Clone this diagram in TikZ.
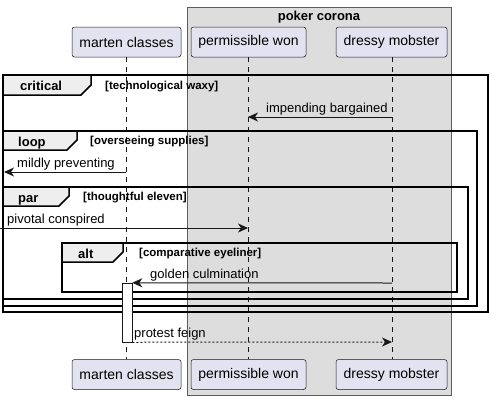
\documentclass[tikz,border=0pt]{standalone}
\usepackage{fontspec}
\setmainfont{Liberation Sans}
\usetikzlibrary{arrows.meta}
\definecolor{partfill}{HTML}{E2E2F0}
\definecolor{partline}{HTML}{181818}
\definecolor{boxfill}{HTML}{DDDDDD}
\definecolor{tabfill}{HTML}{EEEEEE}
\tikzset{
  part/.style={draw=partline, line width=0.5pt, fill=partfill, rounded corners=2.5pt,
    minimum height=30pt, inner sep=0pt, font=\fontsize{14}{16}\selectfont},
  lifeline/.style={draw=partline, line width=0.5pt, dash pattern=on 5pt off 5pt},
  frame/.style={draw=black, line width=1.5pt},
  tab/.style={draw=black, line width=1.5pt, fill=tabfill},
  tabtext/.style={anchor=base west, inner sep=0pt, font=\bfseries\fontsize{13}{15}\selectfont},
  guard/.style={anchor=base west, inner sep=0pt, font=\bfseries\fontsize{11.5}{13}\selectfont},
  msg/.style={draw=partline, line width=1pt, -{Stealth[length=10pt,width=9pt,inset=3pt]}},
  dmsg/.style={msg, dash pattern=on 2pt off 2pt},
  msglabel/.style={anchor=base west, inner sep=0pt, font=\fontsize{13}{15}\selectfont},
  act/.style={draw=partline, line width=0.5pt, fill=white}
}
\begin{document}
\begin{tikzpicture}[x=1pt,y=-1pt]
\useasboundingbox (0,0) rectangle (492,400);
% box
\path[fill=boxfill, draw=partline!70, line width=0.5pt] (187,7) rectangle (451,395);
\node[anchor=base, inner sep=0pt, font=\bfseries\fontsize{13}{15}\selectfont] (boxtitle) at (319,20) {poker corona};
% participants
\node[part, minimum width=109pt] (mt) at (126.5,42) {marten classes};
\node[part, minimum width=115pt] (pt) at (248.5,42) {permissible won};
\node[part, minimum width=111pt] (dt) at (391.5,42) {dressy mobster};
\node[part, minimum width=109pt] (mb) at (126.5,374.5) {marten classes};
\node[part, minimum width=115pt] (pb) at (248.5,374.5) {permissible won};
\node[part, minimum width=111pt] (db) at (391.5,374.5) {dressy mobster};
% lifelines
\coordinate (mx) at (126,0);
\coordinate (px) at (248,0);
\coordinate (dx) at (392,0);
\draw[lifeline] (mx |- mt.south) -- (mx |- mb.north);
\draw[lifeline] (px |- pt.south) -- (px |- pb.north);
\draw[lifeline] (dx |- dt.south) -- (dx |- db.north);
% frames
\draw[frame] (3,75) rectangle (488,312);
\draw[tab] (3,75) -- (91,75) -- (91,85) -- (81,95) -- (3,95) -- cycle;
\node[tabtext] (critl) at (20,90) {critical};
\node[guard] (critg) at (105,89) {[technological waxy]};
\draw[frame] (3,131) rectangle (477,306);
\draw[tab] (3,131) -- (77,131) -- (77,140) -- (67,150) -- (3,150) -- cycle;
\node[tabtext] (loopl) at (18,146) {loop};
\node[guard] (loopg) at (90,144) {[overseeing supplies]};
\draw[frame] (3,187) rectangle (468,299);
\draw[tab] (3,187) -- (69,187) -- (69,196) -- (59,206) -- (3,206) -- cycle;
\node[tabtext] (parl) at (18,202) {par};
\node[guard] (parg) at (83,200) {[thoughtful eleven]};
\draw[frame] (62,243) rectangle (457,292);
\draw[tab] (62,243) -- (123,243) -- (123,252) -- (113,262) -- (62,262) -- cycle;
\node[tabtext] (altl) at (78,258) {alt};
\node[guard] (altg) at (139,256) {[comparative eyeliner]};
% activation
\node[act, minimum width=10pt, minimum height=59pt, inner sep=0pt] (act) at (127,312.5) {};
% messages
\coordinate (m1s) at (392,117); \coordinate (m1e) at (248,117);
\draw[msg] (m1s) -- (m1e);
\node[msglabel] (m1l) at (266,112) {impending bargained};
\coordinate (m2s) at (126,172); \coordinate (m2e) at (4,172);
\draw[msg] (m2s) -- (m2e);
\node[msglabel] (m2l) at (17,167) {mildly preventing};
\coordinate (m3s) at (0,228); \coordinate (m3e) at (248,228);
\draw[msg] (m3s) -- (m3e);
\node[msglabel] (m3l) at (7,223) {pivotal conspired};
\coordinate (m4s) at (392,283);
\draw[msg] (m4s) -- (act.north east);
\node[msglabel] (m4l) at (150,278) {golden culmination};
\coordinate (m5e) at (392,342);
\draw[dmsg] (act.south east) -- (m5e);
\node[msglabel] (m5l) at (134,337) {protest feign};
\end{tikzpicture}
\end{document}
